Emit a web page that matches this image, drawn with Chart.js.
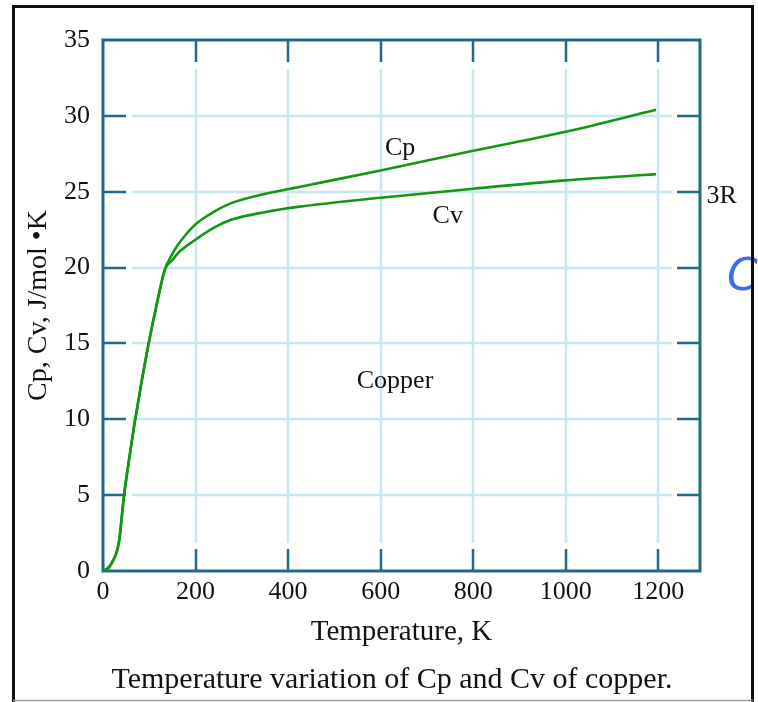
<!DOCTYPE html>
<html>
<head>
<meta charset="utf-8">
<script src="https://cdn.jsdelivr.net/npm/chart.js@4"></script>
<style>
html,body{margin:0;padding:0;background:#fff;}
canvas{display:block;}
</style>
</head>
<body>
<canvas id="c" width="758" height="702"></canvas>
<script>
// ---- data ----
const temperatureK = [0, 8, 15, 22, 29.5, 35, 45, 57, 68, 83, 98, 118, 134, 150, 162, 198, 241, 277, 349, 421, 600, 800, 1000, 1195];
const cpValues     = [0, 0.12, 0.32, 0.7, 1.25, 2.0, 4.85, 7.5, 9.7, 12.4, 14.9, 17.85, 19.9, 20.9, 21.5, 22.8, 23.7, 24.25, 24.85, 25.3, 26.4, 27.7, 28.95, 30.4];
const cvValues     = [0, 0.12, 0.32, 0.7, 1.25, 2.0, 4.85, 7.5, 9.7, 12.4, 14.9, 17.85, 19.9, 20.5, 20.95, 21.8, 22.65, 23.15, 23.65, 24.0, 24.6, 25.2, 25.75, 26.15];
const xTicks = [0, 200, 400, 600, 800, 1000, 1200];
const yTicks = [0, 5, 10, 15, 20, 25, 30, 35];
const seriesNames = ["Cp", "Cv"];
const xTitle = "Temperature, K";
const yTitle = "Cp, Cv, J/mol \u2022K";
const caption = "Temperature variation of Cp and Cv of copper.";
// in-plot labels: [text, temperature, value]
const plotLabels = [["Cp", 642, 27.9], ["Cv", 745, 23.4], ["Copper", 631, 12.5], ["3R", 1337, 24.7]];

const FONT = "Liberation Serif";
const AXIS = "#1f6a8b";
const GRID = "#c6e8f1";
const GREEN = "#139613";

function pts(vals){ return temperatureK.map((t,i)=>({x:t, y:vals[i]})); }

const deco = {
  id: 'deco',
  beforeDatasetsDraw(chart){
    const ctx = chart.ctx, a = chart.chartArea, xs = chart.scales.x, ys = chart.scales.y;
    ctx.save();
    ctx.lineWidth = 2.5;
    ctx.strokeStyle = GRID;
    xTicks.filter(v => v > 0).forEach(v => {
      const px = Math.round(xs.getPixelForValue(v));
      ctx.beginPath(); ctx.moveTo(px, a.top + 29); ctx.lineTo(px, a.bottom - 28); ctx.stroke();
    });
    yTicks.filter(v => v > 0 && v < 35).forEach(v => {
      const py = Math.round(ys.getPixelForValue(v));
      ctx.beginPath(); ctx.moveTo(a.left + 29, py); ctx.lineTo(a.right - 28, py); ctx.stroke();
    });
    ctx.strokeStyle = AXIS;
    xTicks.filter(v => v > 0).forEach(v => {
      const px = Math.round(xs.getPixelForValue(v));
      ctx.beginPath(); ctx.moveTo(px, a.top); ctx.lineTo(px, a.top + 22); ctx.stroke();
      ctx.beginPath(); ctx.moveTo(px, a.bottom); ctx.lineTo(px, a.bottom - 22); ctx.stroke();
    });
    yTicks.filter(v => v > 0 && v < 35).forEach(v => {
      const py = Math.round(ys.getPixelForValue(v));
      ctx.beginPath(); ctx.moveTo(a.left, py); ctx.lineTo(a.left + 23, py); ctx.stroke();
      ctx.beginPath(); ctx.moveTo(a.right, py); ctx.lineTo(a.right - 23, py); ctx.stroke();
    });
    ctx.lineWidth = 3;
    ctx.strokeRect(a.left, a.top, a.right - a.left, a.bottom - a.top);
    ctx.restore();
  },
  afterDraw(chart){
    const ctx = chart.ctx, xs = chart.scales.x, ys = chart.scales.y;
    ctx.save();
    ctx.fillStyle = "#111";
    ctx.font = "26px '" + FONT + "'";
    ctx.textAlign = "center";
    ctx.textBaseline = "middle";
    plotLabels.forEach(([t, x, y]) => {
      ctx.fillText(t, xs.getPixelForValue(x), ys.getPixelForValue(y));
    });
    ctx.font = "30px '" + FONT + "'";
    ctx.fillText(caption, 392, 680);
    // handwritten blue mark at the right edge
    ctx.fillStyle = "#3d6eea";
    ctx.font = "italic 300 44px 'DejaVu Sans'";
    ctx.textAlign = "left";
    ctx.fillText("C", 727, 279);
    // outer frame
    ctx.strokeStyle = "#111";
    ctx.lineWidth = 3;
    ctx.beginPath();
    ctx.moveTo(13.5, 702); ctx.lineTo(13.5, 6.5); ctx.lineTo(752.5, 6.5); ctx.lineTo(752.5, 702);
    ctx.stroke();
    ctx.strokeStyle = "#999";
    ctx.lineWidth = 1.5;
    ctx.beginPath(); ctx.moveTo(13, 700.5); ctx.lineTo(753, 700.5); ctx.stroke();
    ctx.restore();
  }
};

new Chart(document.getElementById('c'), {
  type: 'line',
  data: {
    datasets: [
      { label: seriesNames[0], data: pts(cpValues), borderColor: GREEN, borderWidth: 2.6, pointRadius: 0, fill: false, cubicInterpolationMode: 'monotone' },
      { label: seriesNames[1], data: pts(cvValues), borderColor: GREEN, borderWidth: 2.6, pointRadius: 0, fill: false, cubicInterpolationMode: 'monotone' }
    ]
  },
  options: {
    responsive: false,
    animation: false,
    devicePixelRatio: 1,
    layout: { padding: { top: 40, right: 58, bottom: 40, left: 0 } },
    plugins: { legend: { display: false }, tooltip: { enabled: false }, title: { display: false } },
    scales: {
      x: {
        type: 'linear', min: 0, max: 1290,
        afterFit(s){ s.height = 91; },
        afterBuildTicks(s){ s.ticks = xTicks.map(v => ({value: v})); },
        grid: { display: false, drawTicks: false },
        border: { display: false },
        ticks: { color: "#111", font: { family: FONT, size: 26 }, padding: 6, maxRotation: 0, autoSkip: false, callback: v => String(v) },
        title: { display: true, text: xTitle, color: "#111", font: { family: FONT, size: 29 }, padding: { top: 0, bottom: 12 } }
      },
      y: {
        type: 'linear', min: 0, max: 35,
        afterFit(s){ s.width = 103; },
        afterBuildTicks(s){ s.ticks = yTicks.map(v => ({value: v})); },
        grid: { display: false, drawTicks: false },
        border: { display: false },
        ticks: { color: "#111", font: { family: FONT, size: 26 }, padding: 13, callback: v => String(v) },
        title: { display: true, text: yTitle, color: "#111", font: { family: FONT, size: 28 }, padding: { top: 22, bottom: 0 } }
      }
    }
  },
  plugins: [deco]
});
</script>
</body>
</html>
